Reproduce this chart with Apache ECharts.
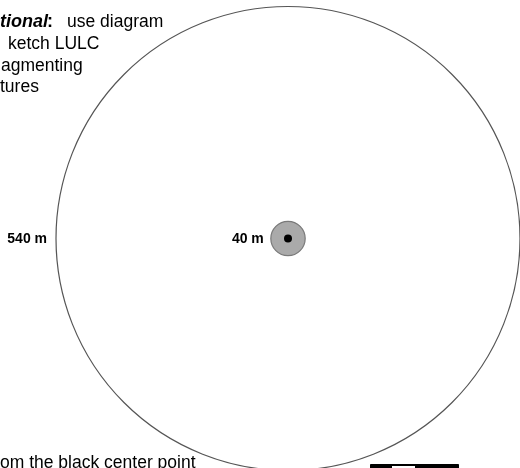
<!DOCTYPE html>
<html style="height: 100%">
<head>
<meta charset="utf-8">
<script src="https://cdn.jsdelivr.net/npm/echarts@6/dist/echarts.min.js"></script>
</head>
<body style="height: 100%; margin: 0; background: #fff">
<div id="container" style="width: 520px; height: 468px"></div>
<script>
// buffer rings around the center point (metres)
var ringRadius = [540, 40];
var ringLabels = ['540 m', '40 m'];
var ringFill = ['rgba(0,0,0,0)', '#aaaaaa'];
var ringStroke = ['#555555', '#7a7a7a'];
var centerPoint = [[0, 0]];

// visible pieces of the notes (clipped at the page edge)
var noteLines = ['ketch LULC', 'agmenting', 'tures'];
var bottomNote = 'om the black center point';

var dom = document.getElementById('container');
var myChart = echarts.init(dom);
var font = '"Liberation Sans", Arial, sans-serif';

// px per metre ~ 232/540, center at (288, 238.5)
var k = 232 / 540;

var option = {
    animation: false,
    grid: { left: 0, right: 0, top: 0, bottom: 0 },
    xAxis: { type: 'value', show: false, min: -288 / k, max: (520 - 288) / k },
    yAxis: { type: 'value', show: false, min: -(468 - 238.5) / k, max: 238.5 / k },
    series: [
        {
            type: 'custom',
            data: ringRadius.map(function (r, i) { return [0, 0, r, i]; }),
            renderItem: function (params, api) {
                var c = api.coord([api.value(0), api.value(1)]);
                var r = api.size([api.value(2), 0])[0];
                var i = api.value(3);
                return {
                    type: 'group',
                    children: [
                        {
                            type: 'circle',
                            shape: { cx: c[0], cy: c[1], r: r },
                            style: { fill: ringFill[i], stroke: ringStroke[i], lineWidth: 1.2 }
                        },
                        {
                            type: 'text',
                            style: {
                                text: ringLabels[i],
                                x: c[0] - r - (i === 0 ? 9 : 7),
                                y: c[1] + 1,
                                align: 'right',
                                verticalAlign: 'middle',
                                font: 'bold 14px ' + font,
                                fill: '#000'
                            }
                        }
                    ]
                };
            }
        },
        {
            type: 'scatter',
            data: centerPoint,
            symbolSize: 8,
            itemStyle: { color: '#000', opacity: 1 }
        }
    ],
    graphic: [
        { type: 'text', x: 0, y: 22, style: { text: 'tional', font: 'italic bold 18px ' + font, fill: '#000', verticalAlign: 'middle' } },
        { type: 'text', x: 47, y: 22, style: { text: ':', font: 'bold 18px ' + font, fill: '#000', verticalAlign: 'middle' } },
        { type: 'text', x: 67, y: 22, style: { text: 'use diagram', font: '17.5px ' + font, fill: '#000', verticalAlign: 'middle' } },
        { type: 'text', x: 8, y: 44, style: { text: noteLines[0], font: '17.5px ' + font, fill: '#000', verticalAlign: 'middle' } },
        { type: 'text', x: 1, y: 66, style: { text: noteLines[1], font: '17.5px ' + font, fill: '#000', verticalAlign: 'middle' } },
        { type: 'text', x: 0, y: 87, style: { text: noteLines[2], font: '17.5px ' + font, fill: '#000', verticalAlign: 'middle' } },
        { type: 'text', x: 0, y: 463, style: { text: bottomNote, font: '17.5px ' + font, fill: '#000', verticalAlign: 'middle' } },
        // scale bar
        { type: 'rect', shape: { x: 370.5, y: 464.5, width: 88, height: 8 }, style: { fill: '#000', stroke: '#000', lineWidth: 1 } },
        { type: 'rect', shape: { x: 392, y: 466, width: 23, height: 6 }, style: { fill: '#fff' } }
    ]
};

myChart.setOption(option);
</script>
</body>
</html>
